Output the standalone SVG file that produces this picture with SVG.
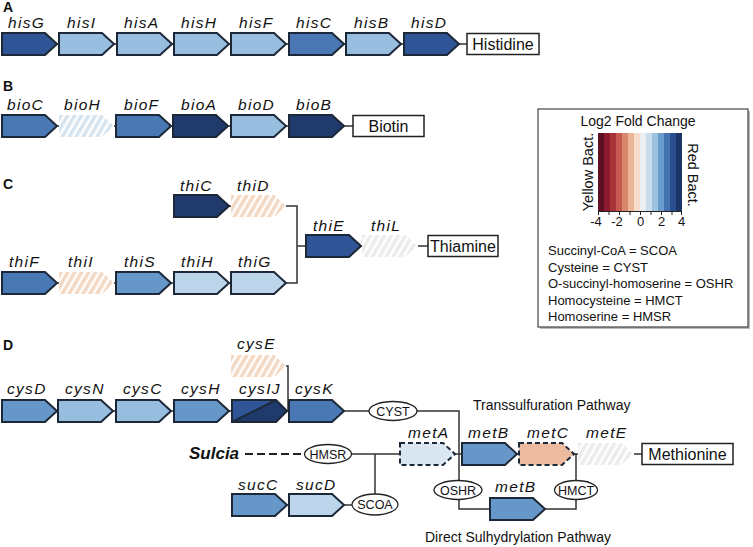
<svg xmlns="http://www.w3.org/2000/svg" width="753" height="547" viewBox="0 0 753 547">
<style>
text{font-family:"Liberation Sans",Arial,sans-serif;fill:#111}
.pl{font-size:14px;font-weight:bold}
.gl{font-size:15.5px;font-style:italic;letter-spacing:1.3px}
.bx{font-size:16px}
.el{font-size:12.5px}
.lg{font-size:13px}
.g{stroke:#1c2838;stroke-width:2;stroke-linejoin:miter}
.dsh{stroke:#1c2838;stroke-width:2;stroke-dasharray:5 3}
.c1{fill:#1f3a6b}.c2{fill:#2f5597}.c3{fill:#4a78b4}.c4{fill:#6797c8}.c5{fill:#97bedf}.c6{fill:#bdd5eb}
.hp{fill:url(#hPeach)}.hb{fill:url(#hBlue)}.hg{fill:url(#hGray)}
.box{fill:#fff;stroke:#222;stroke-width:1.5}
.ell{fill:#fff;stroke:#222;stroke-width:1.3}
#connectors line,#connectors polyline{stroke:#333;stroke-width:1.5;fill:none}
</style>
<defs>
<path id="arr" d="M0,0 H43 L55,11 L43,22 H0 Z"/>
<pattern id="hPeach" patternUnits="userSpaceOnUse" width="6" height="6" patternTransform="rotate(30)"><rect width="3.6" height="6" fill="#f3d8c4"/></pattern>
<pattern id="hBlue" patternUnits="userSpaceOnUse" width="6" height="6" patternTransform="rotate(30)"><rect width="3.6" height="6" fill="#d6e4f0"/></pattern>
<pattern id="hGray" patternUnits="userSpaceOnUse" width="6" height="6" patternTransform="rotate(30)"><rect width="3.6" height="6" fill="#ececec"/></pattern>
</defs>
<rect width="753" height="547" fill="#fff"/>

<!-- panel letters -->
<text class="pl" x="3" y="12">A</text>
<text class="pl" x="3" y="91">B</text>
<text class="pl" x="3" y="189">C</text>
<text class="pl" x="3" y="350">D</text>

<g id="connectors">
<!-- A -->
<line x1="57" y1="44" x2="59" y2="44"/><line x1="114" y1="44" x2="117" y2="44"/><line x1="172" y1="44" x2="174" y2="44"/><line x1="229" y1="44" x2="231" y2="44"/><line x1="286" y1="44" x2="289" y2="44"/><line x1="344" y1="44" x2="346" y2="44"/><line x1="401" y1="44" x2="404" y2="44"/><line x1="459" y1="44" x2="467" y2="44"/>
<!-- B -->
<line x1="57" y1="126" x2="59" y2="126"/><line x1="114" y1="126" x2="116" y2="126"/><line x1="171" y1="126" x2="173" y2="126"/><line x1="228" y1="126" x2="231" y2="126"/><line x1="286" y1="126" x2="289" y2="126"/><line x1="344" y1="126" x2="353" y2="126"/>
<!-- C -->
<line x1="229" y1="206" x2="231" y2="206"/>
<polyline points="286,206 297,206 297,283 286,283"/>
<line x1="297" y1="246" x2="306" y2="246"/>
<line x1="361" y1="246" x2="362" y2="246"/>
<line x1="418" y1="246" x2="428" y2="246"/>
<line x1="57" y1="283" x2="59" y2="283"/><line x1="114" y1="283" x2="116" y2="283"/><line x1="171" y1="283" x2="174" y2="283"/><line x1="229" y1="283" x2="231" y2="283"/>
<!-- D -->
<line x1="57" y1="411" x2="58" y2="411"/><line x1="113" y1="411" x2="116" y2="411"/><line x1="171" y1="411" x2="174" y2="411"/><line x1="229" y1="411" x2="232" y2="411"/><line x1="287" y1="411" x2="289" y2="411"/>
<polyline points="286,366 288,366 288,411"/>
<line x1="344" y1="411" x2="369" y2="411"/>
<polyline points="417,411 459,411 459,480.5"/>
<polyline points="459,499.5 459,509 490,509"/>
<line x1="455" y1="454" x2="462" y2="454"/>
<line x1="517" y1="454" x2="519" y2="454"/>
<line x1="574" y1="454" x2="578" y2="454"/>
<line x1="576" y1="454" x2="576" y2="480.5"/>
<polyline points="576,499.5 576,509 545,509"/>
<line x1="634" y1="454" x2="642" y2="454"/>
<line x1="351.5" y1="454" x2="400" y2="454"/>
<line x1="375" y1="454" x2="375" y2="494"/>
<line x1="287" y1="505" x2="289" y2="505"/>
<line x1="344" y1="505" x2="352" y2="505"/>
<line x1="245" y1="454" x2="304.5" y2="454" style="stroke:#222;stroke-width:2;stroke-dasharray:8 4"/>
</g>

<!-- Panel A -->
<g id="hisG"><use href="#arr" x="2" y="33" class="g c2"/><text class="gl" x="8" y="28">hisG</text></g>
<g id="hisI"><use href="#arr" x="59" y="33" class="g c5"/><text class="gl" x="67" y="28">hisI</text></g>
<g id="hisA"><use href="#arr" x="117" y="33" class="g c5"/><text class="gl" x="124" y="28">hisA</text></g>
<g id="hisH"><use href="#arr" x="174" y="33" class="g c5"/><text class="gl" x="181" y="28">hisH</text></g>
<g id="hisF"><use href="#arr" x="231" y="33" class="g c5"/><text class="gl" x="239" y="28">hisF</text></g>
<g id="hisC"><use href="#arr" x="289" y="33" class="g c3"/><text class="gl" x="296" y="28">hisC</text></g>
<g id="hisB"><use href="#arr" x="346" y="33" class="g c5"/><text class="gl" x="354" y="28">hisB</text></g>
<g id="hisD"><use href="#arr" x="404" y="33" class="g c2"/><text class="gl" x="411" y="28">hisD</text></g>
<g id="histidine"><rect class="box" x="467" y="33.5" width="72" height="21"/><text class="bx" x="503" y="50" text-anchor="middle">Histidine</text></g>

<!-- Panel B -->
<g id="bioC"><use href="#arr" x="2" y="115" class="g c3"/><text class="gl" x="7" y="110">bioC</text></g>
<g id="bioH"><use href="#arr" x="59" y="115" class="hb"/><text class="gl" x="64" y="110">bioH</text></g>
<g id="bioF"><use href="#arr" x="116" y="115" class="g c3"/><text class="gl" x="124" y="110">bioF</text></g>
<g id="bioA"><use href="#arr" x="173" y="115" class="g c1"/><text class="gl" x="181" y="110">bioA</text></g>
<g id="bioD"><use href="#arr" x="231" y="115" class="g c5"/><text class="gl" x="238" y="110">bioD</text></g>
<g id="bioB"><use href="#arr" x="289" y="115" class="g c1"/><text class="gl" x="296" y="110">bioB</text></g>
<g id="biotin"><rect class="box" x="353" y="115.5" width="71" height="21"/><text class="bx" x="388.5" y="132" text-anchor="middle">Biotin</text></g>

<!-- Panel C -->
<g id="thiC"><use href="#arr" x="174" y="195" class="g c1"/><text class="gl" x="180" y="191">thiC</text></g>
<g id="thiD"><use href="#arr" x="231" y="195" class="hp"/><text class="gl" x="237" y="191">thiD</text></g>
<g id="thiE"><use href="#arr" x="306" y="235" class="g c2"/><text class="gl" x="313" y="231">thiE</text></g>
<g id="thiL"><use href="#arr" x="362" y="235" class="hg"/><text class="gl" x="371" y="231">thiL</text></g>
<g id="thiamine"><rect class="box" x="428" y="235.5" width="70" height="21"/><text class="bx" x="463" y="252" text-anchor="middle">Thiamine</text></g>
<g id="thiF"><use href="#arr" x="2" y="272" class="g c3"/><text class="gl" x="9" y="267">thiF</text></g>
<g id="thiI"><use href="#arr" x="59" y="272" class="hp"/><text class="gl" x="68" y="267">thiI</text></g>
<g id="thiS"><use href="#arr" x="116" y="272" class="g c4"/><text class="gl" x="124" y="267">thiS</text></g>
<g id="thiH"><use href="#arr" x="174" y="272" class="g c6"/><text class="gl" x="181" y="267">thiH</text></g>
<g id="thiG"><use href="#arr" x="231" y="272" class="g c6"/><text class="gl" x="238" y="267">thiG</text></g>

<!-- Panel D -->
<g id="cysD"><use href="#arr" x="2" y="400" class="g c4"/><text class="gl" x="7" y="394">cysD</text></g>
<g id="cysN"><use href="#arr" x="58" y="400" class="g c5"/><text class="gl" x="65" y="394">cysN</text></g>
<g id="cysC"><use href="#arr" x="116" y="400" class="g c5"/><text class="gl" x="123" y="394">cysC</text></g>
<g id="cysH"><use href="#arr" x="174" y="400" class="g c4"/><text class="gl" x="181" y="394">cysH</text></g>
<g id="cysIJ">
<path d="M232,400 H276 L232,422 Z" class="c2"/>
<path d="M232,422 L276,400 L287,411 L276,422 Z" class="c1"/>
<path d="M232,400 H276 L287,411 L276,422 H232 Z M232,422 L276,400" fill="none" class="g"/>
<text class="gl" x="239" y="394">cysIJ</text></g>
<g id="cysE"><use href="#arr" x="231" y="355" class="hp"/><text class="gl" x="237" y="349">cysE</text></g>
<g id="cysK"><use href="#arr" x="289" y="400" class="g c3"/><text class="gl" x="295" y="394">cysK</text></g>
<g id="CYST"><ellipse class="ell" cx="393" cy="411" rx="24" ry="9.5"/><text class="el" x="393" y="415.5" text-anchor="middle">CYST</text></g>
<text x="473" y="410" font-size="14">Transsulfuration Pathway</text>

<g id="sulcia"><text x="189" y="459" font-size="17" font-weight="bold" font-style="italic">Sulcia</text></g>
<g id="HMSR"><ellipse class="ell" cx="328" cy="454" rx="23.5" ry="9.5"/><text class="el" x="328" y="458.5" text-anchor="middle">HMSR</text></g>
<g id="metA"><use href="#arr" x="400" y="443" class="dsh" fill="#dae7f2"/><text class="gl" x="408" y="438">metA</text></g>
<g id="metB"><use href="#arr" x="462" y="443" class="g c4"/><text class="gl" x="468" y="438">metB</text></g>
<g id="metC"><use href="#arr" x="519" y="443" class="dsh" fill="#ecbba0"/><text class="gl" x="527" y="438">metC</text></g>
<g id="metE"><use href="#arr" x="578" y="443" class="hg"/><text class="gl" x="586" y="438">metE</text></g>
<g id="methionine"><rect class="box" x="642" y="443.5" width="91" height="21"/><text class="bx" x="687.5" y="460" text-anchor="middle">Methionine</text></g>
<g id="OSHR"><ellipse class="ell" cx="458" cy="490" rx="24" ry="9.5"/><text class="el" x="458" y="494.5" text-anchor="middle">OSHR</text></g>
<g id="HMCT"><ellipse class="ell" cx="576" cy="490" rx="21.5" ry="9.5"/><text class="el" x="576" y="494.5" text-anchor="middle">HMCT</text></g>
<g id="metB2"><use href="#arr" x="490" y="498" class="g c4"/><text class="gl" x="495" y="492">metB</text></g>
<g id="sucC"><use href="#arr" x="232" y="494" class="g c4"/><text class="gl" x="238" y="490">sucC</text></g>
<g id="sucD"><use href="#arr" x="289" y="494" class="g c6"/><text class="gl" x="296" y="490">sucD</text></g>
<g id="SCOA"><ellipse class="ell" cx="375" cy="504.5" rx="23" ry="10.5"/><text class="el" x="375" y="509" text-anchor="middle">SCOA</text></g>
<text x="425" y="542" font-size="14">Direct Sulhydrylation Pathway</text>

<!-- Legend -->
<g id="legend">
<rect x="540" y="111" width="210" height="218" fill="#bbb"/>
<rect x="538" y="109" width="210" height="218" fill="#fff" stroke="#444" stroke-width="1.2"/>
<text x="638" y="126" font-size="14" text-anchor="middle">Log2 Fold Change</text>
<g>
<rect x="598" y="133" width="6.2" height="78" fill="#5e0f22"/>
<rect x="604" y="133" width="6.2" height="78" fill="#8b1a2e"/>
<rect x="610" y="133" width="6.2" height="78" fill="#a8343a"/>
<rect x="616" y="133" width="6.2" height="78" fill="#c45a4f"/>
<rect x="622" y="133" width="6.2" height="78" fill="#d9876c"/>
<rect x="628" y="133" width="6.2" height="78" fill="#ecb599"/>
<rect x="634" y="133" width="6.2" height="78" fill="#f6dccb"/>
<rect x="640" y="133" width="6.2" height="78" fill="#eceff2"/>
<rect x="646" y="133" width="6.2" height="78" fill="#c8dcec"/>
<rect x="652" y="133" width="6.2" height="78" fill="#9bc2de"/>
<rect x="658" y="133" width="6.2" height="78" fill="#6a9ccb"/>
<rect x="664" y="133" width="6.2" height="78" fill="#4372b0"/>
<rect x="670" y="133" width="6.2" height="78" fill="#2a4f8f"/>
<rect x="676" y="133" width="6" height="78" fill="#1b3566"/>
</g>
<g stroke="#222" stroke-width="1">
<line x1="598" y1="211.5" x2="682" y2="211.5"/>
<line x1="598.5" y1="211" x2="598.5" y2="215"/><line x1="609" y1="211" x2="609" y2="215"/><line x1="619.5" y1="211" x2="619.5" y2="215"/><line x1="630" y1="211" x2="630" y2="215"/><line x1="640.5" y1="211" x2="640.5" y2="215"/><line x1="651" y1="211" x2="651" y2="215"/><line x1="661.5" y1="211" x2="661.5" y2="215"/><line x1="672" y1="211" x2="672" y2="215"/><line x1="681.5" y1="211" x2="681.5" y2="215"/>
</g>
<g font-size="13" text-anchor="middle">
<text x="596" y="226">-4</text><text x="617" y="226">-2</text><text x="640.5" y="226">0</text><text x="661.5" y="226">2</text><text x="681.5" y="226">4</text>
</g>
<text transform="translate(593,172) rotate(-90)" font-size="14.5" text-anchor="middle">Yellow Bact.</text>
<text transform="translate(688,175) rotate(90)" font-size="14.5" text-anchor="middle">Red Bact.</text>
<text class="lg" x="548" y="255">Succinyl-CoA = SCOA</text>
<text class="lg" x="548" y="271.5">Cysteine = CYST</text>
<text class="lg" x="548" y="288">O-succinyl-homoserine = OSHR</text>
<text class="lg" x="548" y="304.5">Homocysteine = HMCT</text>
<text class="lg" x="548" y="321">Homoserine = HMSR</text>
</g>
</svg>
